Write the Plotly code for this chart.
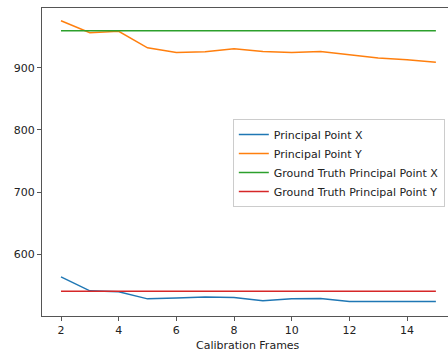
import plotly.graph_objects as go

# Calibration results per number of frames
frames = [2, 3, 4, 5, 6, 7, 8, 9, 10, 11, 12, 13, 14, 15]
principal_x = [563.4, 540.8, 539.2, 527.9, 529.5, 531.1, 530.2, 524.7, 527.9, 528.5, 523.7, 523.7, 524.7, 523.7]
principal_y = [976.0, 956.6, 958.9, 932.4, 925.0, 926.0, 930.8, 926.6, 925.0, 926.6, 921.0, 915.8, 913.0, 908.9]
truth_x = [960] * len(frames)
truth_y = [540] * len(frames)

series = [
    ("Principal Point X", principal_x, "#1f77b4"),
    ("Principal Point Y", principal_y, "#ff7f0e"),
    ("Ground Truth Principal Point X", truth_x, "#2ca02c"),
    ("Ground Truth Principal Point Y", truth_y, "#d62728"),
]

fig = go.Figure()
for name, values, color in series:
    fig.add_trace(go.Scatter(x=frames, y=values, mode="lines", name=name,
                             line=dict(color=color, width=1.5)))

font = dict(family="DejaVu Sans", size=11, color="#222222")
axis_common = dict(showgrid=False, zeroline=False, showline=True,
                   linecolor="#555555", linewidth=1, ticks="outside",
                   ticklen=4, tickcolor="#555555", tickfont=font)

fig.update_layout(
    width=448, height=358,
    margin=dict(l=42, r=0, t=8, b=42),
    plot_bgcolor="white", paper_bgcolor="white",
    font=font,
    xaxis=dict(range=[1.341, 15.42], tickvals=[2, 4, 6, 8, 10, 12, 14],
               mirror=True, **axis_common),
    yaxis=dict(range=[500.3, 996.5], tickvals=[600, 700, 800, 900],
               **axis_common),
    legend=dict(x=0.47, y=0.64, xanchor="left", yanchor="top",
                bgcolor="rgba(255,255,255,0.8)", bordercolor="#cccccc",
                borderwidth=1, font=font, tracegroupgap=0),
    annotations=[dict(text="Calibration Frames", xref="paper", yref="paper",
                      x=0.508, y=-0.095, xanchor="center", yanchor="middle",
                      showarrow=False, font=font)],
)

fig.write_html("out.html")
